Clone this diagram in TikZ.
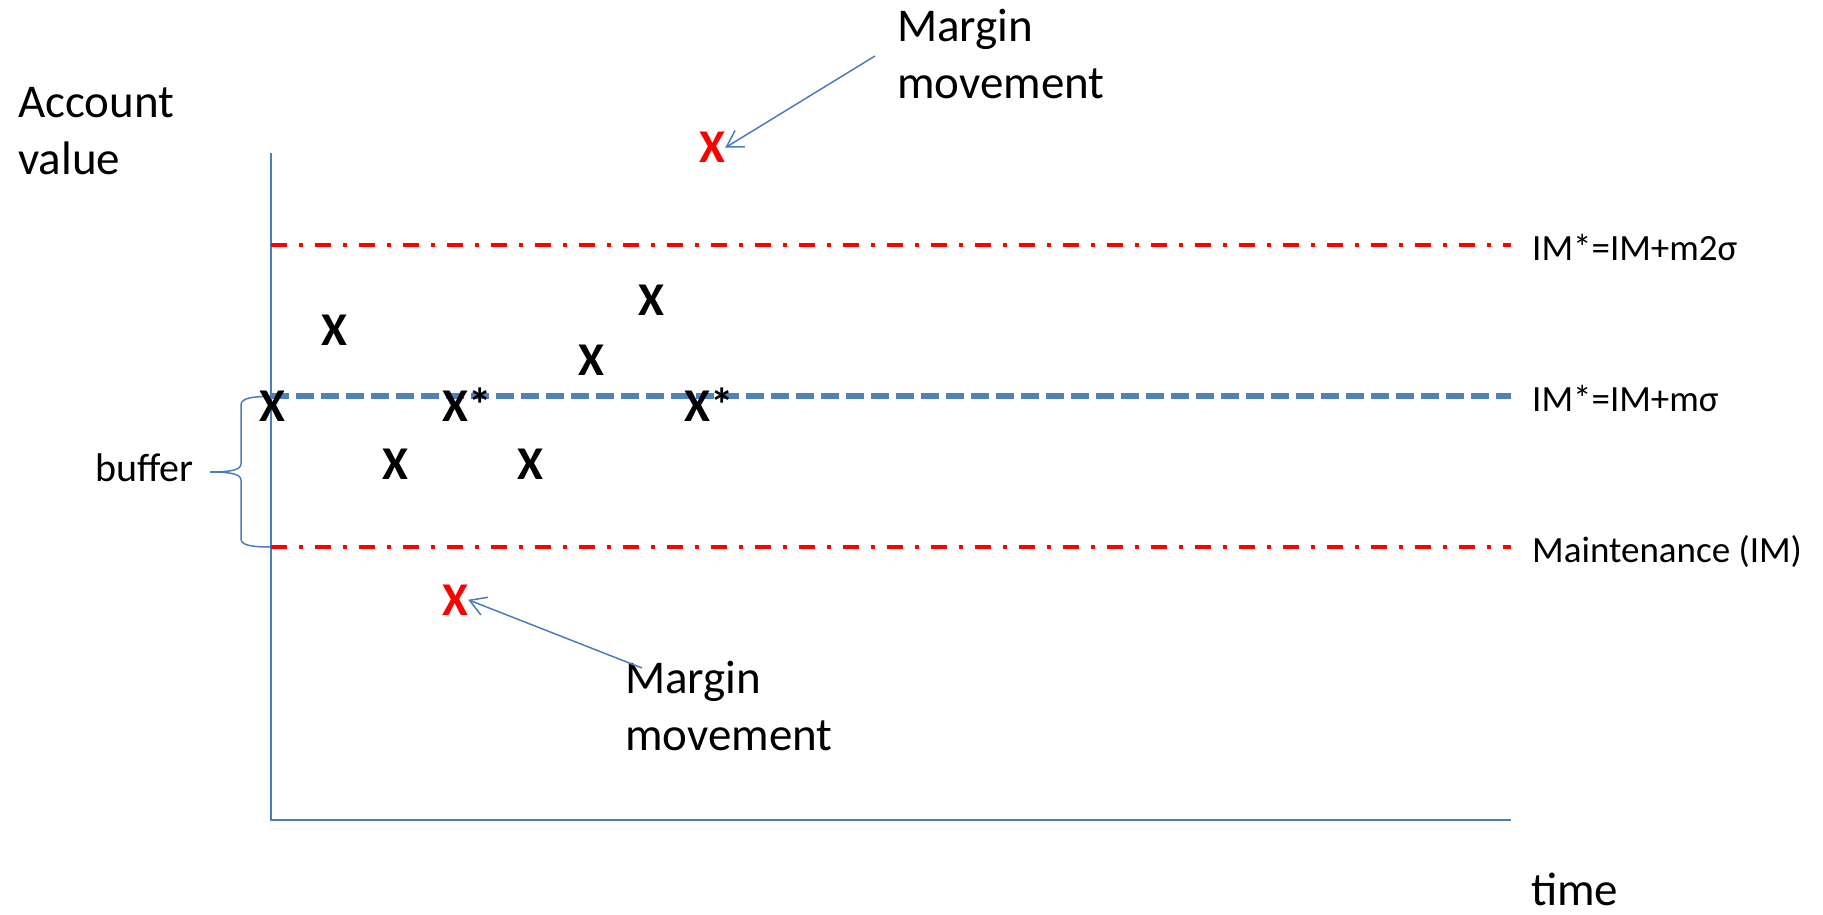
\documentclass[tikz,border=0pt]{standalone}
\usepackage{fontspec}
\setmainfont{Carlito}
\usetikzlibrary{arrows.meta}
\definecolor{axisblue}{HTML}{4A7EBB}
\definecolor{lineblue}{HTML}{4F81BD}
\definecolor{markred}{HTML}{FF0000}
\begin{document}
\begin{tikzpicture}[x=1pt,y=-1pt,
  bigtext/.style={inner sep=0pt, font=\fontsize{47}{57}\selectfont, align=left, anchor=base west},
  lbltext/.style={inner sep=0pt, font=\fontsize{37}{44}\selectfont, anchor=base west},
  buftext/.style={inner sep=0pt, font=\fontsize{40}{48}\selectfont, anchor=base west},
  xmark/.style={inner sep=0pt, font=\fontsize{47}{57}\selectfont\bfseries, anchor=base},
  xstar/.style={inner sep=0pt, font=\fontsize{47}{57}\selectfont\bfseries, anchor=base west},
  redmark/.style={xmark, text=markred},
  axisline/.style={draw=axisblue, line width=2pt},
  levelred/.style={draw=markred, line width=3.7pt, dash pattern=on 16pt off 12pt on 4pt off 12pt},
  levelblue/.style={draw=lineblue, line width=6pt, dash pattern=on 18pt off 7pt},
  callout/.style={draw=axisblue, line width=1.5pt, -{Straight Barb[length=16pt,width=19pt,line width=1.5pt]}},
  bracestyle/.style={draw=axisblue, line width=1.5pt}
]
\path[use as bounding box] (0,0) rectangle (1823,915);

% axes
\coordinate (top) at (271,153);
\coordinate (origin) at (271,820);
\coordinate (xend) at (1511,820);
\draw[axisline] (top) -- (origin) -- (xend);

% level lines
\coordinate (l2s) at (271,245);  \coordinate (r2s) at (1511,245);
\coordinate (l1s) at (271,396);  \coordinate (r1s) at (1511,396);
\coordinate (lim) at (271,547);  \coordinate (rim) at (1511,547);
\draw[levelred]  (l2s) -- (r2s);
\draw[levelblue] (l1s) -- (r1s);
\draw[levelred]  (lim) -- (rim);

% level labels
\node[lbltext] (lab2s) at (1532,260) {IM*=IM+m2σ};
\node[lbltext] (lab1s) at (1532,411) {IM*=IM+mσ};
\node[lbltext] (labim) at (1532,562) {Maintenance (IM)};

% axis labels (base anchor sits on the last line)
\node[bigtext] (ylab) at (18,175) {Account\\value};
\node[bigtext] (xlab) at (1531,905) {time};

% buffer brace
\draw[bracestyle] (l1s) .. controls (255,397) and (241,397) .. (241,405)
  -- (241,464) .. controls (241,471) and (226,472) .. (210,472);
\draw[bracestyle] (210,472) .. controls (226,472) and (241,473) .. (241,480)
  -- (241,539) .. controls (241,546) and (255,547) .. (lim);
\node[buftext] (buf) at (95,481) {buffer};

% account values
\node[xmark] (p1) at (272,421) {X};
\node[xmark] (p2) at (334,345) {X};
\node[xmark] (p3) at (395,479) {X};
\node[xstar] (p4) at (442,421) {X*};
\node[xmark] (p5) at (530,479) {X};
\node[xmark] (p6) at (591,375) {X};
\node[xmark] (p7) at (651,315) {X};
\node[xstar] (p8) at (684,421) {X*};

% margin movements
\node[redmark] (mtop) at (712,163) {X};
\node[redmark] (mbot) at (455,615) {X};
\node[bigtext] (ttop) at (897,99) {Margin\\movement};
\node[bigtext] (tbot) at (625,750) {Margin\\movement};
\coordinate (ctop) at (875,56);
\coordinate (cbot) at (642,668);
\draw[callout] (ctop) -- (mtop.east);
\draw[callout] (cbot) -- (mbot.east);
\end{tikzpicture}
\end{document}
